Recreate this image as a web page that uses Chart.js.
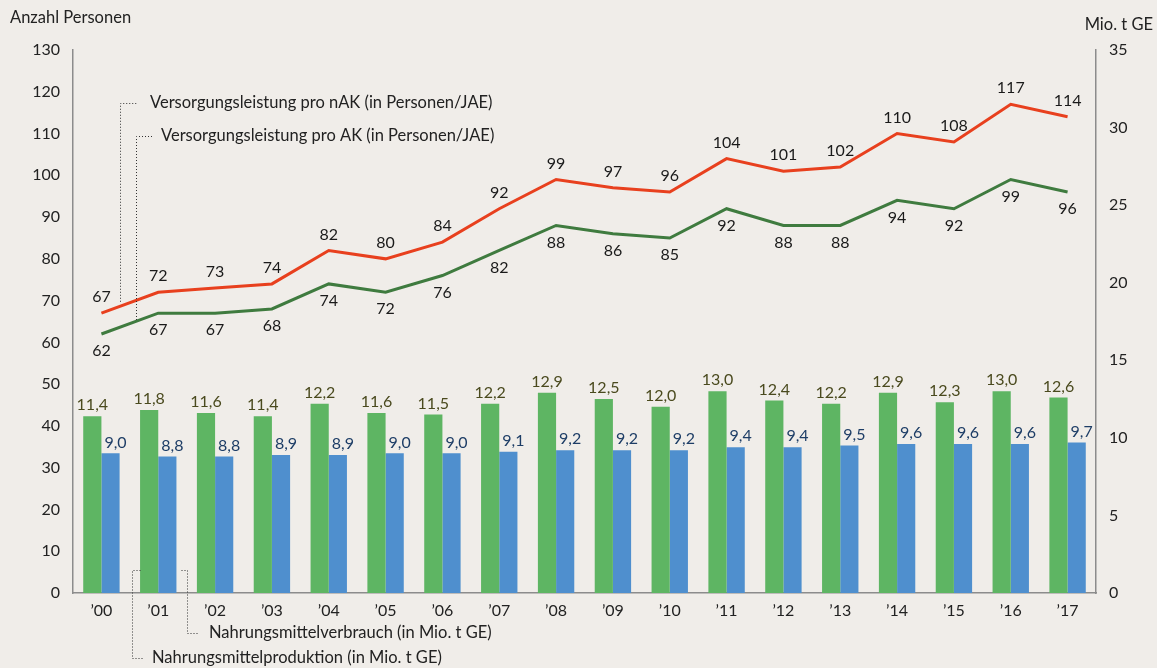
<!DOCTYPE html>
<html>
<head>
<meta charset="utf-8">
<script src="https://cdn.jsdelivr.net/npm/chart.js@4"></script>
<style>
  html, body { margin: 0; padding: 0; background: #f0ede9; }
  #wrap { width: 1157px; height: 668px; }
</style>
</head>
<body>
<div id="wrap"><canvas id="chart" width="1157" height="668"></canvas></div>
<script>
const years = ['’00','’01','’02','’03','’04','’05','’06','’07','’08','’09','’10','’11','’12','’13','’14','’15','’16','’17'];
const leistungNAK = [67, 72, 73, 74, 82, 80, 84, 92, 99, 97, 96, 104, 101, 102, 110, 108, 117, 114];
const leistungAK = [62, 67, 67, 68, 74, 72, 76, 82, 88, 86, 85, 92, 88, 88, 94, 92, 99, 96];
const produktion = [11.4, 11.8, 11.6, 11.4, 12.2, 11.6, 11.5, 12.2, 12.9, 12.5, 12.0, 13.0, 12.4, 12.2, 12.9, 12.3, 13.0, 12.6];
const verbrauch = [9.0, 8.8, 8.8, 8.9, 8.9, 9.0, 9.0, 9.1, 9.2, 9.2, 9.2, 9.4, 9.4, 9.5, 9.6, 9.6, 9.6, 9.7];

const FONT = 'Lato, "Open Sans", sans-serif';
const axisColor = '#8c8c8c';

// value labels above / below the marks
const valueLabels = {
    id: 'valueLabels',
    afterDatasetsDraw(chart) {
        const ctx = chart.ctx;
        ctx.save();
        ctx.font = '16px ' + FONT;
        ctx.textAlign = 'center';
        chart.data.datasets.forEach((ds, i) => {
            const meta = chart.getDatasetMeta(i);
            meta.data.forEach((el, j) => {
                const v = ds.data[j];
                let txt = ds.type === 'bar' ? v.toFixed(1).replace('.', ',') : String(v);
                ctx.fillStyle = ds.labelColor;
                if (ds.labelPos === 'below') {
                    ctx.textBaseline = 'top';
                    ctx.fillText(txt, el.x, el.y + 9);
                } else {
                    ctx.textBaseline = 'bottom';
                    ctx.fillText(txt, el.x + (ds.labelDx || 0), el.y - (ds.type === 'bar' ? 3 : 8));
                }
            });
        });
        ctx.restore();
    }
};

// titles and dotted leader lines
const annotations = {
    id: 'annotations',
    afterDraw(chart) {
        const ctx = chart.ctx;
        const x = chart.scales.x, y = chart.scales.y;
        const step = x.getPixelForValue(1) - x.getPixelForValue(0);
        ctx.save();
        ctx.fillStyle = '#222';
        ctx.font = '16.5px ' + FONT;
        ctx.textBaseline = 'middle';
        ctx.textAlign = 'left';
        ctx.fillText('Anzahl Personen', 10, 18);
        ctx.textAlign = 'right';
        ctx.fillText('Mio. t GE', 1153, 25);

        ctx.strokeStyle = '#333';
        ctx.lineWidth = 1;
        ctx.setLineDash([1, 2]);
        function leader(pts) {
            ctx.beginPath();
            ctx.moveTo(pts[0][0] + 0.5, pts[0][1] + 0.5);
            for (let k = 1; k < pts.length; k++) ctx.lineTo(pts[k][0] + 0.5, pts[k][1] + 0.5);
            ctx.stroke();
        }
        function lineY(arr, f) {
            return y.getPixelForValue(arr[0] + (arr[1] - arr[0]) * f);
        }
        const x0 = x.getPixelForValue(0);
        // nAK
        const xa = Math.round(x0 + step * 0.33);
        leader([[xa, lineY(leistungNAK, 0.33) - 5], [xa, 103], [xa + 16, 103]]);
        // AK
        const xb = Math.round(x0 + step * 0.6);
        leader([[xb, lineY(leistungAK, 0.6) - 2], [xb, 136], [xb + 16, 136]]);
        // Produktion / Verbrauch
        const xc = Math.round(x0 + step * 0.53);
        leader([[xc + 8, 570], [xc, 570], [xc, 658], [xc + 10, 658]]);
        const xd = Math.round(x0 + step * 1.5);
        leader([[xd - 6, 570], [xd, 570], [xd, 633], [xd + 12, 633]]);
        ctx.setLineDash([]);

        ctx.textAlign = 'left';
        ctx.fillStyle = '#222';
        ctx.fillText('Versorgungsleistung pro nAK (in Personen/JAE)', xa + 30, 103);
        ctx.fillText('Versorgungsleistung pro AK (in Personen/JAE)', xb + 25, 136);
        ctx.fillText('Nahrungsmittelproduktion (in Mio. t GE)', xc + 20, 658);
        ctx.fillText('Nahrungsmittelverbrauch (in Mio. t GE)', xd + 22, 633);
        ctx.restore();
    }
};

const data = {
    labels: years,
    datasets: [
        {
            type: 'line', label: 'Versorgungsleistung pro nAK', data: leistungNAK, yAxisID: 'y',
            borderColor: '#e8401e', borderWidth: 3, pointRadius: 0, tension: 0,
            labelColor: '#1a1a1a', labelPos: 'above'
        },
        {
            type: 'line', label: 'Versorgungsleistung pro AK', data: leistungAK, yAxisID: 'y',
            borderColor: '#3f7b3f', borderWidth: 3, pointRadius: 0, tension: 0,
            labelColor: '#1a1a1a', labelPos: 'below'
        },
        {
            type: 'bar', label: 'Nahrungsmittelproduktion', data: produktion, yAxisID: 'y2',
            backgroundColor: '#5eb563', categoryPercentage: 0.64, barPercentage: 1,
            labelColor: '#4a4a1e', labelPos: 'above'
        },
        {
            type: 'bar', label: 'Nahrungsmittelverbrauch', data: verbrauch, yAxisID: 'y2',
            backgroundColor: '#4f8fce', categoryPercentage: 0.64, barPercentage: 1,
            labelColor: '#1d3d66', labelPos: 'above', labelDx: 5
        }
    ]
};

const config = {
    type: 'bar',
    data: data,
    options: {
        responsive: false,
        animation: false,
        layout: { padding: { top: 50, left: 0, right: 0, bottom: 0 } },
        plugins: { legend: { display: false }, tooltip: { enabled: false } },
        scales: {
            x: {
                grid: { display: false, drawTicks: false },
                border: { color: axisColor, width: 1.5 },
                ticks: { color: '#222', font: { family: FONT, size: 16 }, padding: 8 },
                afterFit(s) { s.height = 75; }
            },
            y: {
                position: 'left', min: 0, max: 130,
                grid: { display: false, drawTicks: true, tickLength: 5, color: axisColor },
                border: { color: axisColor, width: 1.5 },
                ticks: { stepSize: 10, color: '#222', font: { family: FONT, size: 16 }, padding: 8 },
                afterFit(s) { s.width = 73; }
            },
            y2: {
                position: 'right', min: 0, max: 35,
                grid: { display: false, drawTicks: true, tickLength: 5, color: axisColor },
                border: { color: axisColor, width: 1.5 },
                ticks: { stepSize: 5, color: '#222', font: { family: FONT, size: 16 }, padding: 8 },
                afterFit(s) { s.width = 61; }
            }
        }
    },
    plugins: [valueLabels, annotations]
};

let ctx = document.getElementById('chart').getContext('2d');
new Chart(ctx, config);
</script>
</body>
</html>
